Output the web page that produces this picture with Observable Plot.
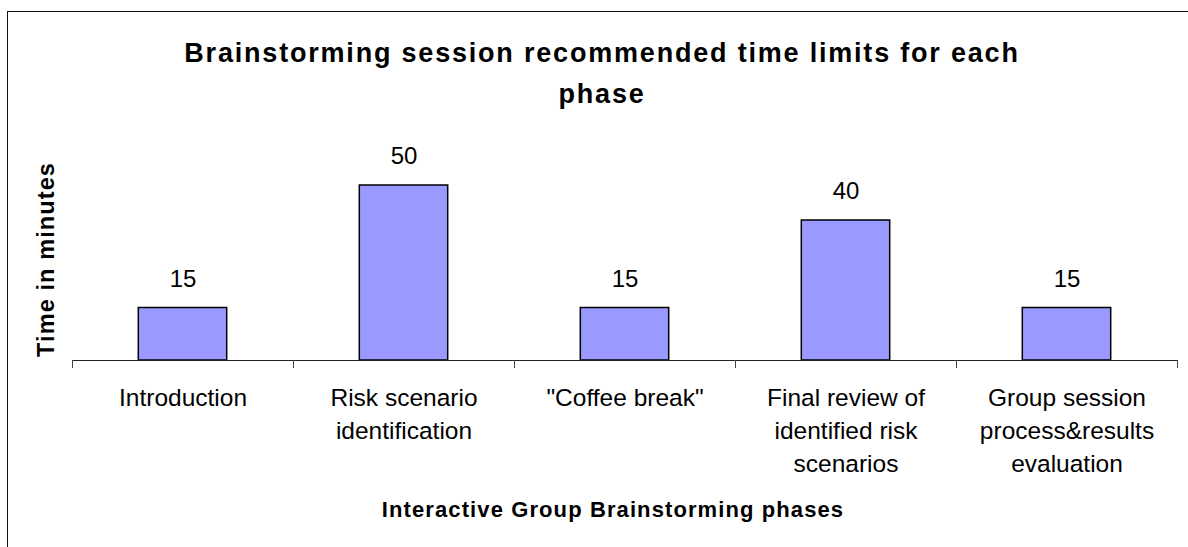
<!DOCTYPE html>
<html>
<head>
<meta charset="utf-8">
<script src="https://cdn.jsdelivr.net/npm/d3@7"></script>
<script src="https://cdn.jsdelivr.net/npm/@observablehq/plot@0.6"></script>
<style>
  html, body { margin: 0; padding: 0; background: #fff; overflow: hidden; }
  #wrap { position: relative; width: 1188px; height: 547px; }
  #border { position: absolute; left: 7px; top: 11px; width: 1300px; height: 700px; border: 1px solid #111; box-sizing: border-box; pointer-events: none; }
  svg g[font-weight="bold"] text { letter-spacing: 1.1px; }
  svg g[font-weight="bold"][font-size="27"] text { letter-spacing: 1.8px; }
</style>
</head>
<body>
<div id="wrap"><div id="border"></div></div>
<script>
const phases = [
  "Introduction",
  "Risk scenario\nidentification",
  "\"Coffee break\"",
  "Final review of\nidentified risk\nscenarios",
  "Group session\nprocess&results\nevaluation"
];
const minutes = [15, 50, 15, 40, 15];
const boundaryTicks = [0, 1, 2, 3, 4, 5];
const titleText = "Brainstorming session recommended time limits for each\nphase";
const yLabel = "Time in minutes";
const xLabel = "Interactive Group Brainstorming phases";

const data = phases.map((p, i) => ({i, phase: p, minutes: minutes[i]}));

const font = "'Liberation Sans', Arial, sans-serif";

const chart = Plot.plot({
  width: 1188,
  height: 547,
  marginLeft: 72,
  marginRight: 11,
  marginTop: 150,
  marginBottom: 187,
  style: {fontFamily: font, color: "#000", background: "transparent", overflow: "visible"},
  x: {type: "linear", domain: [0, 5], axis: null},
  y: {domain: [0, 60], axis: null},
  marks: [
    Plot.rectY(data, {x1: d => d.i + 0.3, x2: d => d.i + 0.7, y: "minutes", fill: "#9999FF", stroke: "#000", strokeWidth: 1.5}),
    Plot.ruleY([0], {stroke: "#222", strokeWidth: 1}),
    Plot.axisX({ticks: boundaryTicks, tickSize: 8, tickFormat: () => "", stroke: "#444"}),
    Plot.text(data, {x: d => d.i + 0.5, y: "minutes", text: d => String(d.minutes), dy: -29, fontSize: 24, fill: "#000"}),
    Plot.text(data, {x: d => d.i + 0.5, text: "phase", frameAnchor: "bottom", lineAnchor: "top", dy: 22, fontSize: 24.5, lineHeight: 1.35, fill: "#000"}),
    Plot.text([titleText], {frameAnchor: "top", text: d => d, lineAnchor: "middle", dx: -23, dy: -81, fontSize: 27, fontWeight: "bold", lineHeight: 1.53, fill: "#000"}),
    Plot.text([yLabel], {frameAnchor: "left", text: d => d, textAnchor: "middle", rotate: -90, dx: -26, dy: 4, fontSize: 23.5, fontWeight: "bold", fill: "#000"}),
    Plot.text([xLabel], {frameAnchor: "bottom", text: d => d, dx: -12, dy: 156, fontSize: 22, fontWeight: "bold", fill: "#000"})
  ]
});
document.getElementById("wrap").prepend(chart);
</script>
</body>
</html>
